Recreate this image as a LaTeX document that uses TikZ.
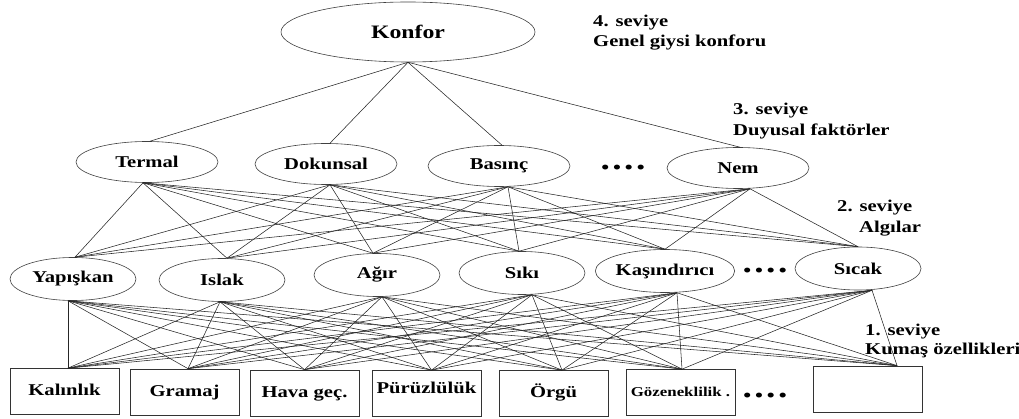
\documentclass[tikz,border=0pt]{standalone}
\usepackage{fontspec}
\setmainfont{Liberation Serif}[FakeStretch=1.25]
\usetikzlibrary{shapes.geometric}

\begin{document}
\begin{tikzpicture}[x=1pt,y=-1pt,
  every node/.style={font=\bfseries\fontsize{16.5}{19}\selectfont, inner sep=0pt},
  goalnode/.style={ellipse, draw=black!75, line width=0.6pt,
    minimum width=254pt, minimum height=60pt,
    font=\bfseries\fontsize{19}{22}\selectfont},
  factor/.style={ellipse, draw=black!75, line width=0.6pt,
    minimum width=142pt, minimum height=41pt},
  percept/.style={ellipse, draw=black!75, line width=0.6pt,
    minimum width=126pt, minimum height=43pt},
  prop/.style={rectangle, draw=black!80, line width=0.7pt,
    minimum width=109pt, minimum height=46pt, text height=11.5pt, text depth=3.5pt},
  link/.style={draw=black!85, line width=0.55pt},
  tier/.style={anchor=base west},
  ellip/.style={font=\bfseries\fontsize{18}{20}\selectfont}
]
\useasboundingbox (0,0) rectangle (1019,419);

% level 4
\node[goalnode] (konfor) at (408,32) {Konfor};
\node[tier] (l4a) at (593,27) {4. seviye};
\node[tier] (l4b) at (593,47) {Genel giysi konforu};

% level 3: sensory factors
\node[factor] (t1) at (147,162) {Termal};
\node[factor] (t2) at (326,164) {Dokunsal};
\node[factor] (t3) at (499,166) {Basınç};
\node[factor] (t4) at (738,168) {Nem};
\node[ellip] (d3) at (623,169) {•\hspace{4pt}•\hspace{4pt}•\hspace{4pt}•};
\node[tier] (l3a) at (733,115) {3. seviye};
\node[tier] (l3b) at (733,135.5) {Duyusal faktörler};

% level 2: perceptions
\node[percept] (a1) at (73,279) {Yapışkan};
\node[percept] (a2) at (222,280) {Islak};
\node[percept] (a3) at (377,275) {Ağır};
\node[percept] (a4) at (522,273) {Sıkı};
\node[percept] (a5) at (665,271) {Kaşındırıcı};
\node[percept] (a6) at (858,268.5) {Sıcak};
\node[ellip] (d2) at (765,272) {•\hspace{4pt}•\hspace{4pt}•\hspace{4pt}•};
\node[tier] (l2a) at (837,212) {2. seviye};
\node[tier] (l2b) at (859,232.5) {Algılar};

% level 1: fabric properties
\node[prop] (b1) at (64.5,391.5) {Kalınlık};
\node[prop] (b2) at (184.5,392) {Gramaj};
\node[prop] (b3) at (304.5,393) {Hava geç.};
\node[prop] (b4) at (426.5,393.5) {\raisebox{4pt}{Pürüzlülük}};
\node[prop] (b5) at (553.5,393.5) {Örgü};
\node[prop, font=\bfseries\fontsize{13.5}{16}\selectfont] (b6) at (680.5,392.5) {Gözeneklilik .};
\node[prop] (b7) at (867.5,389) {};
\node[ellip] (d1) at (765,397) {•\hspace{4pt}•\hspace{4pt}•\hspace{4pt}•};
\node[tier] (l1a) at (865,335) {1. seviye};
\node[tier] (l1b) at (865,354) {Kumaş özellikleri};

% level 4 -> level 3
\foreach \u/\us in {t1/3,t2/4,t3/3,t4/2}
  \draw[link] (konfor.south) -- ([xshift=\us pt]\u.north);

% level 3 -> level 2
\foreach \u/\us in {t1/-4,t2/4,t3/9,t4/12}
  \foreach \l/\ls in {a1/2,a2/5,a3/-4,a4/-3,a5/0,a6/0}
    \draw[link] ([xshift=\us pt]\u.south) -- ([xshift=\ls pt]\l.north);

% level 2 -> level 1
\foreach \u/\us in {a1/-5,a2/-2,a3/5,a4/10,a5/12,a6/14}
  \foreach \l/\ls in {b1/3.5,b2/3.5,b3/0,b4/5,b5/8.5,b6/1.5,b7/29.5}
    \draw[link] ([xshift=\us pt]\u.south) -- ([xshift=\ls pt]\l.north);
\end{tikzpicture}
\end{document}
